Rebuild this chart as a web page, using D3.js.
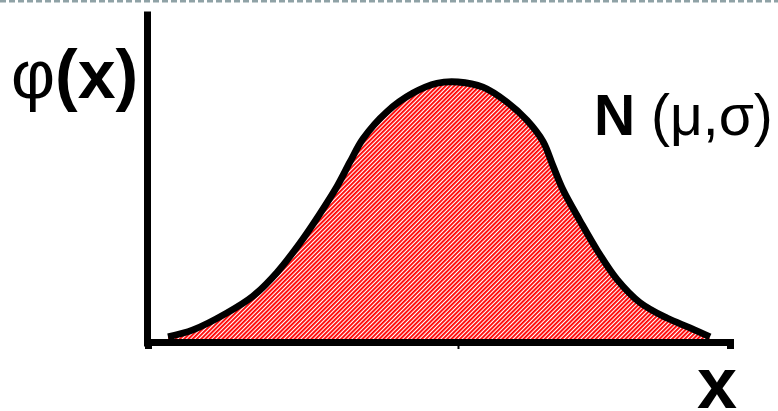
<!DOCTYPE html>
<html>
<head>
<meta charset="utf-8">
<script src="https://cdn.jsdelivr.net/npm/d3@7"></script>
<style>
  html, body { margin: 0; padding: 0; background: #fff; }
  svg { display: block; font-family: "Liberation Sans", Arial, sans-serif; }
</style>
</head>
<body>
<svg width="778" height="411"></svg>
<script>
// curve: x in sigma units around mu, phi scaled to peak = 1
var xValues = [-2.90, -2.65, -2.31, -2.05, -1.81, -1.58, -1.38, -1.21, -1.08, -0.95, -0.71, -0.45, -0.21,
               0.00, 0.25, 0.49, 0.69, 0.85, 0.95, 1.05, 1.22, 1.39, 1.59, 1.82, 2.09, 2.32, 2.52];
var phiValues = [0.012, 0.039, 0.105, 0.170, 0.262, 0.376, 0.490, 0.595, 0.690, 0.780, 0.885, 0.957, 0.995,
                 1.000, 0.980, 0.922, 0.852, 0.770, 0.675, 0.582, 0.462, 0.349, 0.235, 0.145, 0.085, 0.047, 0.012];
var xTicks = [0];
var yLabel = "(x)", yLabelSymbol = "φ";
var xLabel = "x";
var distLabel = "N", distParams = "(μ,σ)";

var svg = d3.select("svg"),
    width = +svg.attr("width"),
    height = +svg.attr("height");

var x = d3.scaleLinear().domain([-3.1, 2.72]).range([148, 730]);
var y = d3.scaleLinear().domain([0, 1]).range([340, 82]);

var data = xValues.map(function(v, i) { return {x: v, y: phiValues[i]}; });

// dashed rule along the top
svg.append("line")
    .attr("x1", 0).attr("x2", width)
    .attr("y1", 1.2).attr("y2", 1.2)
    .attr("stroke", "#8fa2a6")
    .attr("stroke-width", 2.4)
    .attr("stroke-dasharray", "6,3");

// red / white diagonal hatching
var defs = svg.append("defs");
var pat = defs.append("pattern")
    .attr("id", "hatch")
    .attr("patternUnits", "userSpaceOnUse")
    .attr("width", 3).attr("height", 10)
    .attr("patternTransform", "rotate(45)");
pat.append("rect").attr("width", 3).attr("height", 10).attr("fill", "#fff");
pat.append("rect").attr("width", 1.85).attr("height", 10).attr("fill", "#ff0000");

var area = d3.area()
    .x(function(d) { return x(d.x); })
    .y0(y(0))
    .y1(function(d) { return y(d.y); })
    .curve(d3.curveCatmullRom.alpha(0.5));

var line = d3.line()
    .x(function(d) { return x(d.x); })
    .y(function(d) { return y(d.y); })
    .curve(d3.curveCatmullRom.alpha(0.5));

svg.append("path")
    .datum(data)
    .attr("d", area)
    .attr("fill", "url(#hatch)");

svg.append("path")
    .datum(data)
    .attr("d", line)
    .attr("fill", "none")
    .attr("stroke", "#000")
    .attr("stroke-width", 6.8)
    .attr("stroke-linejoin", "round");

// axes
var yAxisScale = d3.scaleLinear().domain([y.invert(346), y.invert(11)]).range([346, 11]);
var gy = svg.append("g")
    .attr("transform", "translate(147,0)")
    .call(d3.axisLeft(yAxisScale).tickValues([]).tickSizeOuter(0));
gy.select(".domain").attr("stroke", "#000").attr("stroke-width", 7);

var gx = svg.append("g")
    .attr("transform", "translate(0,342)")
    .call(d3.axisBottom(x).tickValues(xTicks).tickSizeOuter(0).tickSize(7).tickFormat(""));
gx.select(".domain").attr("stroke", "#000").attr("stroke-width", 7);
gx.selectAll(".tick line").attr("stroke", "#000").attr("stroke-width", 2);

// labels
var t1 = svg.append("text")
    .attr("x", 11).attr("y", 98)
    .attr("font-size", 68)
    .attr("fill", "#000");
t1.append("tspan").text(yLabelSymbol);
t1.append("tspan").attr("font-weight", "bold").text(yLabel);

var t2 = svg.append("text")
    .attr("x", 594).attr("y", 135)
    .attr("font-size", 57)
    .attr("fill", "#000");
t2.append("tspan").attr("font-weight", "bold").text(distLabel);
t2.append("tspan").text(" " + distParams);

svg.append("text")
    .attr("x", 697).attr("y", 408)
    .attr("font-size", 72)
    .attr("font-weight", "bold")
    .attr("fill", "#000")
    .text(xLabel);
</script>
</body>
</html>
